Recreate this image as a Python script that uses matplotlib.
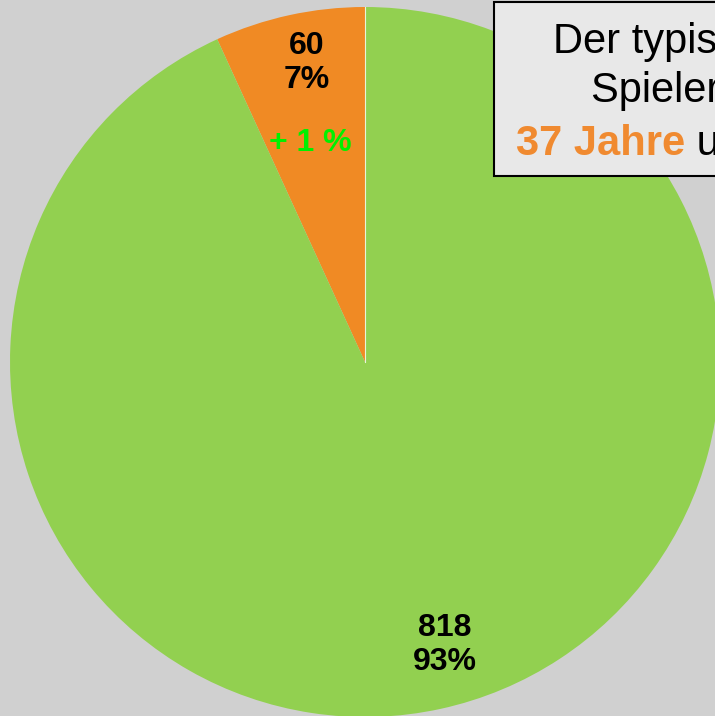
import matplotlib
matplotlib.use("Agg")
import matplotlib.pyplot as plt
from matplotlib.patches import Rectangle

plt.rcParams['font.family'] = ['Liberation Sans', 'DejaVu Sans']

values = [60, 818]
counts_labels = ["60\n7%", "818\n93%"]
colors = ["#f08a24", "#92d050"]
change_label = "+ 1 %"
box_lines = ["Der typische", "Spieler ist"]
box_age = "37 Jahre"
box_rest = " und männlich"

W, H = 715, 716
fig = plt.figure(figsize=(W / 100, H / 100), dpi=100, facecolor="#d0d0d0")
ax = fig.add_axes([0, 0, 1, 1])
ax.set_facecolor("#d0d0d0")

cx, cy, r = 365, H - 362, 355
ax.pie(values, colors=colors, startangle=90, counterclock=True,
       center=(cx, cy), radius=r, frame=True,
       wedgeprops=dict(linewidth=0))
ax.set_xlim(0, W)
ax.set_ylim(0, H)
ax.set_aspect("equal")
ax.axis("off")
# thin white separator at 12 o'clock
ax.plot([cx, cx], [cy, cy + r], color="white", lw=0.8, alpha=0.8)

ax.text(307, H - 63, counts_labels[0], ha="center", va="center",
        fontsize=23, fontweight="bold", color="black", linespacing=1.2)
ax.text(310, H - 143, change_label, ha="center", va="center",
        fontsize=23, fontweight="bold", color="#00f000")
ax.text(445, H - 645, counts_labels[1], ha="center", va="center",
        fontsize=23, fontweight="bold", color="black", linespacing=1.2)

# text box (clipped at the figure edge, as in the reference)
rect = Rectangle((494, H - 176), 320, 174, facecolor="#e8e8e8",
                 edgecolor="black", linewidth=1.5, clip_on=True)
ax.add_patch(rect)
ax.text(553, H - 53, box_lines[0], ha="left", va="baseline",
        fontsize=30, color="black")
ax.text(591, H - 102, box_lines[1], ha="left", va="baseline",
        fontsize=30, color="black")
t = ax.text(516, H - 155, box_age, ha="left", va="baseline",
            fontsize=30, fontweight="bold", color="#f08a30")
fig.canvas.draw()
bb = t.get_window_extent()
ax.text(bb.x1, H - 155, box_rest, ha="left", va="baseline",
        fontsize=30, color="black")

fig.savefig("out.png", dpi=100, facecolor="#d0d0d0")
